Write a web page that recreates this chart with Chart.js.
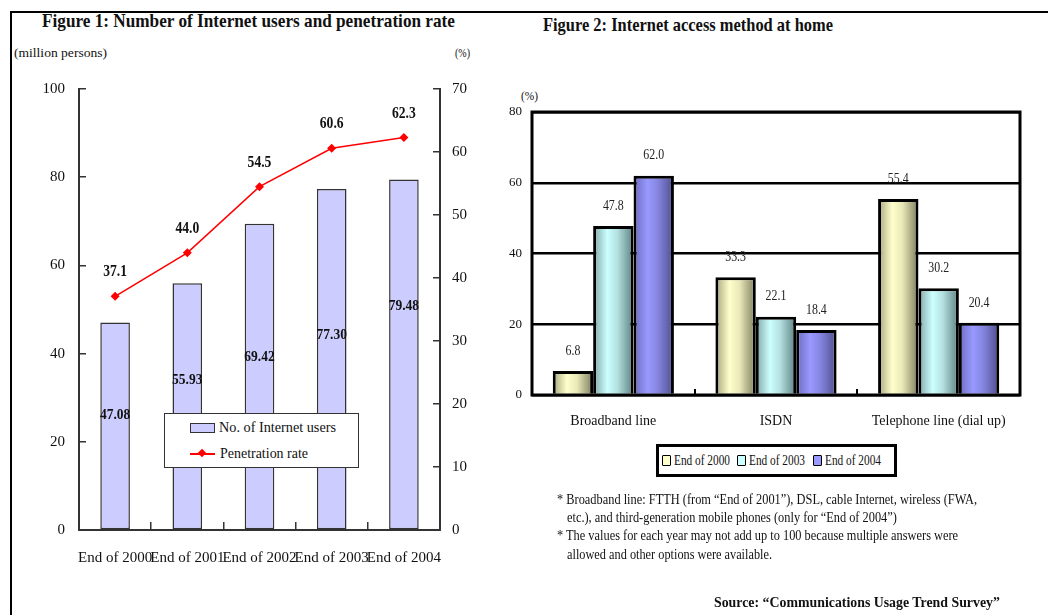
<!DOCTYPE html>
<html><head><meta charset="utf-8">
<script src="https://cdn.jsdelivr.net/npm/chart.js@4"></script>
<style>
html,body{margin:0;padding:0;background:#fff;}
body{width:1048px;height:615px;position:relative;overflow:hidden;font-family:"Liberation Serif","Times New Roman",serif;color:#111;}
canvas{position:absolute;left:0;top:0;}
.t{position:absolute;white-space:nowrap;line-height:1;transform-origin:0 50%;}
.fr{position:absolute;background:#000;}
.box{position:absolute;background:#fff;box-sizing:border-box;}
</style></head>
<body>
<div class="fr" style="left:10px;top:11px;width:1038px;height:2px"></div>
<div class="fr" style="left:10px;top:11px;width:2px;height:604px"></div>

<div class="t" style="left:42px;top:11px;font-size:19px;font-weight:bold" data-w="413">Figure 1: Number of Internet users and penetration rate</div>
<div class="t" style="left:14px;top:46px;font-size:13px" data-w="93">(million persons)</div>
<div class="t" style="left:455px;top:46px;font-size:13px" data-w="15">(%)</div>
<div class="t" style="left:543px;top:15px;font-size:19px;font-weight:bold" data-w="290">Figure 2: Internet access method at home</div>
<div class="t" style="left:521px;top:90px;font-size:12px" data-w="17">(%)</div>

<canvas id="c1" width="1048" height="615"></canvas>
<canvas id="c2" width="1048" height="615"></canvas>

<div id="leg1" class="box" style="left:164px;top:413px;width:195px;height:55px;border:1.5px solid #333"></div>
<div id="leg2" class="box" style="left:656px;top:444px;width:241px;height:33px;border:3px solid #000"></div>

<div class="t" style="left:557px;top:493px;font-size:14px" data-w="420">* Broadband line: FTTH (from “End of 2001”), DSL, cable Internet, wireless (FWA,</div>
<div class="t" style="left:567px;top:511px;font-size:14px" data-w="330">etc.), and third-generation mobile phones (only for “End of 2004”)</div>
<div class="t" style="left:557px;top:529px;font-size:14px" data-w="401">* The values for each year may not add up to 100 because multiple answers were</div>
<div class="t" style="left:567px;top:548px;font-size:14px" data-w="205">allowed and other options were available.</div>
<div class="t" style="left:714px;top:595px;font-size:15px;font-weight:bold" data-w="286">Source: “Communications Usage Trend Survey”</div>

<script>
// ---------- Figure 1 data ----------
const years = ['End of 2000', 'End of 2001', 'End of 2002', 'End of 2003', 'End of 2004'];
const users = [47.08, 55.93, 69.42, 77.30, 79.48];        // million persons
const rate = [37.1, 44.0, 54.5, 60.6, 62.3];               // %
const userLabelAt = [26, 34, 39.3, 44.2, 50.8];            // height (axis units) where bar label sits
const usersLabel = 'No. of Internet users';
const rateLabel = 'Penetration rate';

// ---------- Figure 2 data ----------
const methods = ['Broadband line', 'ISDN', 'Telephone line (dial up)'];
const end2000 = [6.8, 33.3, 55.4];
const end2003 = [47.8, 22.1, 30.2];
const end2004 = [62.0, 18.4, 20.4];
const seriesNames = ['End of 2000', 'End of 2003', 'End of 2004'];

const SERIF = '"Liberation Serif","Times New Roman",serif';
Chart.defaults.font.family = SERIF;
Chart.defaults.color = '#222';

function condText(ctx, txt, x, y, sx) {
  ctx.save(); ctx.translate(x, y); ctx.scale(sx, 1); ctx.fillText(txt, 0, 0); ctx.restore();
}

const labels1 = {
  id: 'labels1',
  afterDatasetsDraw(chart) {
    const ctx = chart.ctx, ys = chart.scales.y;
    const bm = chart.getDatasetMeta(0), lm = chart.getDatasetMeta(1);
    ctx.save();
    ctx.fillStyle = '#111'; ctx.textAlign = 'center'; ctx.textBaseline = 'middle';
    ctx.font = 'bold 15px ' + SERIF;
    bm.data.forEach((el, i) => condText(ctx, users[i].toFixed(2), el.x, ys.getPixelForValue(userLabelAt[i]), 0.9));
    ctx.font = 'bold 16px ' + SERIF;
    lm.data.forEach((pt, i) => condText(ctx, rate[i].toFixed(1), pt.x, pt.y - 24, 0.85));
    ctx.restore();
  }
};

new Chart(document.getElementById('c1'), {
  type: 'bar',
  data: {
    labels: years,
    datasets: [
      { type: 'bar', label: usersLabel, data: users, yAxisID: 'y', order: 1,
        backgroundColor: '#ccccff', borderColor: '#333', borderWidth: 1.5, borderSkipped: false,
        categoryPercentage: 1, barPercentage: 0.41 },
      { type: 'line', label: rateLabel, data: rate, yAxisID: 'y1', order: 0,
        borderColor: '#ff0000', backgroundColor: '#ff0000', borderWidth: 1.5,
        pointStyle: 'rectRot', pointRadius: 4.5, pointBorderWidth: 0, tension: 0 }
    ]
  },
  options: {
    responsive: false, animation: false, devicePixelRatio: 1,
    layout: { padding: { top: 89, left: 0, right: 568, bottom: 45 } },
    plugins: { legend: { display: false }, tooltip: { enabled: false } },
    scales: {
      x: {
        afterFit(s) { s.height = 40; },
        grid: { offset: true, drawOnChartArea: false, tickLength: -8, color: '#333', lineWidth: 1.5 },
        border: { color: '#333', width: 2 },
        ticks: { autoSkip: false, maxRotation: 0, padding: 27, font: { size: 15 }, color: '#111' }
      },
      y: {
        position: 'left', min: 0, max: 100,
        afterFit(s) { s.width = 79; },
        grid: { drawOnChartArea: false, tickLength: -7, color: '#333', lineWidth: 1.5 },
        border: { color: '#333', width: 2 },
        ticks: { stepSize: 20, padding: 21, font: { size: 15 }, color: '#111' }
      },
      y1: {
        position: 'right', min: 0, max: 70,
        afterFit(s) { s.width = 40; },
        grid: { drawOnChartArea: false, tickLength: -7, color: '#333', lineWidth: 1.5 },
        border: { color: '#333', width: 2 },
        ticks: { stepSize: 10, padding: 19, font: { size: 15 }, color: '#111' }
      }
    }
  },
  plugins: [labels1]
});

// ---------- Figure 2 ----------
const baseCols = ['#ffffcc', '#ccffff', '#9999ff'];
const gradStops = [
  ['#a4a47c', '#ffffcc', '#e8e8b8', '#7c7c5c'],
  ['#7fa6a6', '#ccffff', '#b4e0e0', '#5c8080'],
  ['#6b6bc0', '#9999ff', '#8585e0', '#4d4d8c']
];

const deco2 = {
  id: 'deco2',
  beforeDatasetsDraw(chart) {
    const ctx = chart.ctx;
    chart.data.datasets.forEach((ds, di) => {
      const meta = chart.getDatasetMeta(di);
      const st = gradStops[di];
      meta.data.forEach(el => {
        const x0 = el.x - el.width / 2, x1 = el.x + el.width / 2;
        const g = ctx.createLinearGradient(x0, 0, x1, 0);
        g.addColorStop(0, st[0]); g.addColorStop(0.35, st[1]); g.addColorStop(0.6, st[2]); g.addColorStop(1, st[3]);
        el.options = Object.assign({}, el.options, { backgroundColor: g });
      });
    });
  },
  afterDatasetsDraw(chart) {
    const ctx = chart.ctx, a = chart.chartArea;
    ctx.save();
    ctx.strokeStyle = '#000'; ctx.lineWidth = 3;
    ctx.strokeRect(a.left, a.top, a.right - a.left, a.bottom - a.top);
    ctx.fillStyle = '#222'; ctx.textAlign = 'center'; ctx.textBaseline = 'middle';
    ctx.font = '14px ' + SERIF;
    chart.data.datasets.forEach((ds, di) => {
      chart.getDatasetMeta(di).data.forEach((el, i) => {
        condText(ctx, ds.data[i].toFixed(1), el.x, el.y - 20, 0.85);
      });
    });
    ctx.restore();
  }
};

new Chart(document.getElementById('c2'), {
  type: 'bar',
  data: {
    labels: methods,
    datasets: [end2000, end2003, end2004].map((d, i) => ({
      label: seriesNames[i], data: d, backgroundColor: baseCols[i],
      borderColor: '#000', borderWidth: 3,
      categoryPercentage: 0.745, barPercentage: 1
    }))
  },
  options: {
    responsive: false, animation: false, devicePixelRatio: 1,
    layout: { padding: { top: 112, left: 502, right: 28, bottom: 180 } },
    plugins: { legend: { display: false }, tooltip: { enabled: false } },
    scales: {
      x: {
        afterFit(s) { s.height = 40; },
        grid: { offset: true, drawOnChartArea: false, tickLength: -6, color: '#000', lineWidth: 2 },
        border: { display: false },
        ticks: { autoSkip: false, maxRotation: 0, padding: 24, font: { size: 14 }, color: '#111' }
      },
      y: {
        min: 0, max: 80,
        afterFit(s) { s.width = 30; },
        grid: { color: '#000', lineWidth: 2.5, drawTicks: false },
        border: { display: false },
        ticks: { stepSize: 20, padding: 10, font: { size: 13 }, color: '#111' }
      }
    }
  },
  plugins: [deco2]
});

// ---------- Legends (HTML, built from the dataset labels) ----------
(function () {
  const l1 = document.getElementById('leg1');
  l1.innerHTML =
    '<div style="position:absolute;left:25px;top:8.5px;width:25px;height:10px;background:#ccccff;border:1.5px solid #333;box-sizing:border-box"></div>' +
    '<div class="t" style="left:54px;top:6px;font-size:15px" data-w="117">' + usersLabel + '</div>' +
    '<div style="position:absolute;left:25px;top:39px;width:25px;height:1.5px;background:#ff0000"></div>' +
    '<div style="position:absolute;left:34px;top:36px;width:6px;height:6px;background:#ff0000;transform:rotate(45deg)"></div>' +
    '<div class="t" style="left:55px;top:32px;font-size:15px" data-w="88">' + rateLabel + '</div>';
  const l2 = document.getElementById('leg2');
  const sx = [3, 78, 154];
  let h = '';
  seriesNames.forEach((n, i) => {
    h += '<div style="position:absolute;left:' + sx[i] + 'px;top:8px;width:9px;height:11px;background:' + baseCols[i] + ';border:1.5px solid #000;box-sizing:border-box;border-radius:1px"></div>';
    h += '<div class="t" style="left:' + (sx[i] + 12) + 'px;top:6px;font-size:15px" data-w="56">' + n + '</div>';
  });
  l2.innerHTML = h;
})();

// fit text widths (reference text is horizontally condensed)
document.querySelectorAll('.t[data-w]').forEach(el => {
  const w = el.getBoundingClientRect().width;
  const target = parseFloat(el.dataset.w);
  if (w > 0) el.style.transform = 'scaleX(' + (target / w).toFixed(3) + ')';
});
</script>
</body></html>
